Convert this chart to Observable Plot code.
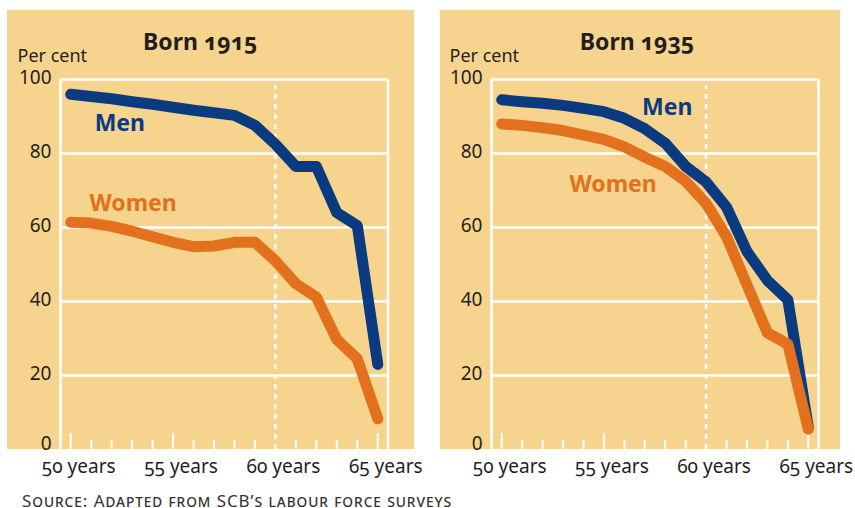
<!DOCTYPE html>
<html><head><meta charset="utf-8">
<script src="https://cdn.jsdelivr.net/npm/d3@7"></script>
<script src="https://cdn.jsdelivr.net/npm/@observablehq/plot@0.6"></script>
<style>
body{margin:0;background:#fff;width:855px;height:508px;position:relative;overflow:hidden;font-family:"Noto Sans",sans-serif;}
.panel{position:absolute;background:#f6d48d;}
.chart{position:absolute;top:0;}
.source{position:absolute;left:22px;top:492px;font-size:17px;line-height:17px;font-variant:small-caps;color:#333;letter-spacing:0.93px;white-space:nowrap;}
</style></head><body>
<div class="panel" style="left:7px;top:10px;width:407px;height:439px"></div>
<div class="panel" style="left:440px;top:10px;width:400px;height:439px"></div>
<div id="c1" class="chart" style="left:0"></div>
<div id="c2" class="chart" style="left:430px"></div>
<div class="source">Source: Adapted from SCB’s labour force surveys</div>
<script>
const ages = [50,51,52,53,54,55,56,57,58,59,60,61,62,63,64,65];
const men1915   = [96,95.4,94.8,94,93.3,92.5,91.7,91,90.3,87.6,82.5,76.5,76.5,64,60.5,23];
const women1915 = [61.4,61.2,60.3,59,57.5,56,54.8,55,56,56,51,44.8,41.2,29.7,24.5,8.3];
const men1935   = [94.5,94,93.6,93,92.2,91.3,89.5,86.7,82.8,76.5,72.3,65.5,53.5,45.7,40.5,6];
const women1935 = [88,87.6,87,86.2,85,83.8,81.8,79,76.5,72.5,66.5,57.5,44.5,31.5,28.5,5.5];
const yTicks = [0,20,40,60,80,100];
const xTicks = [50,55,60,65];
const titles = ["Born 1915","Born 1935"];
const seriesNames = ["Men","Women"];

const BLUE = "#0a3a80", ORANGE = "#e2701d", TEXT = "#231f20";
const xDomain = [49.5, 65.5];

const panels = [
  {el:"c1", title:titles[0], men:men1915, women:women1915, width:430, ml:60, mr:42.5, titleDx:-24, perDx:-43,
   labels:[{age:52.4,value:88.1,name:seriesNames[0],color:BLUE},{age:53.05,value:66.5,name:seriesNames[1],color:ORANGE}]},
  {el:"c2", title:titles[1], men:men1935, women:women1935, width:425, ml:61, mr:37, titleDx:-18, perDx:-42,
   labels:[{age:58.1,value:92.4,name:seriesNames[0],color:BLUE},{age:55.45,value:71.6,name:seriesNames[1],color:ORANGE}]}
];

for (const p of panels) {
  const rows = ages.map((a,i)=>({age:a, men:p.men[i], women:p.women[i]}));
  const chart = Plot.plot({
    width: p.width, height: 490,
    marginLeft: p.ml, marginRight: p.mr, marginTop: 79, marginBottom: 41,
    style: {background:"transparent", color:TEXT, fontFamily:'"Noto Sans", sans-serif', overflow:"visible"},
    x: {domain: xDomain, label: null},
    y: {domain: [0,100], label: null},
    marks: [
      Plot.ruleY(yTicks.filter(d=>d>0), {stroke:"white", strokeWidth:2.5}),
      Plot.ruleX(xDomain, {stroke:"white", strokeWidth:2.5}),
      Plot.ruleX(ages.filter(a=>a!==60), {x:d=>d, y1:0, y2:d=>d%5===0?4.3:2.4, stroke:"white", strokeWidth:2}),
      Plot.ruleX([60], {y1:0, y2:98.4, stroke:"white", strokeWidth:2.5, strokeDasharray:"5,5"}),
      Plot.axisY({ticks:yTicks.filter(d=>d>0), tickSize:0, tickPadding:9, fontSize:19, dy:-2, label:null}),
      Plot.axisY({ticks:yTicks.filter(d=>d===0), tickSize:0, tickPadding:9, fontSize:19, dy:-6, label:null}),
      Plot.axisX({ticks:xTicks, tickSize:0, tickPadding:10, fontSize:19, dx:8, label:null, tickFormat:d=>`${d} years`}),
      Plot.line(rows, {x:"age", y:"men", stroke:BLUE, strokeWidth:11, strokeLinecap:"round", strokeLinejoin:"round"}),
      Plot.line(rows, {x:"age", y:"women", stroke:ORANGE, strokeWidth:11, strokeLinecap:"round", strokeLinejoin:"round"}),
      Plot.text(p.labels, {x:"age", y:"value", text:"name", fill:"color", fontSize:23, fontWeight:"bold"}),
      Plot.text([p.title], {frameAnchor:"top", dx:p.titleDx, dy:-30, lineAnchor:"bottom", fontSize:23, fontWeight:"bold", fill:TEXT, className:"onum"}),
      Plot.text(["Per cent"], {frameAnchor:"top-left", dx:p.perDx, dy:-18, lineAnchor:"bottom", textAnchor:"start", fontSize:18, fill:TEXT})
    ]
  });
  chart.querySelectorAll('g[aria-label="x-axis tick label"] text').forEach(t=>t.style.fontVariantNumeric="oldstyle-nums");
  chart.querySelectorAll('.onum text, g.onum text').forEach(t=>t.style.fontVariantNumeric="oldstyle-nums");
  document.getElementById(p.el).appendChild(chart);
}
</script>
</body></html>
